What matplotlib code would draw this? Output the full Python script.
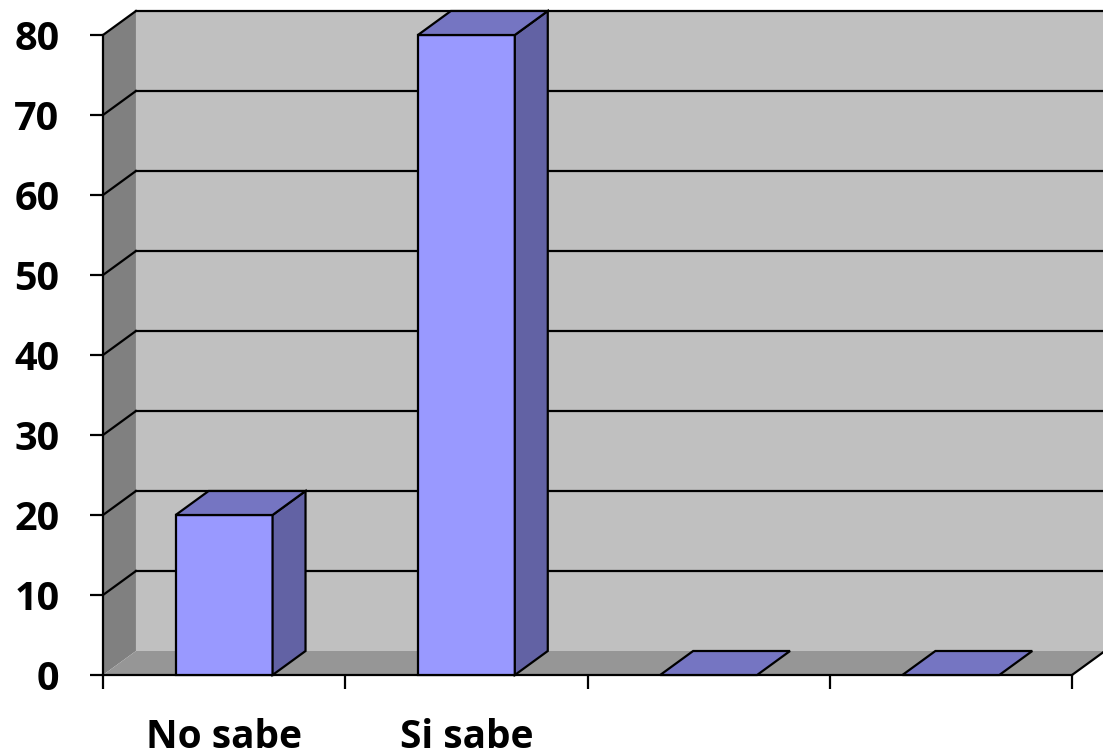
import matplotlib
matplotlib.use("Agg")
import matplotlib.pyplot as plt
from matplotlib.patches import Polygon
import numpy as np

categories = ["No sabe", "Si sabe", "", ""]
values = [20, 80, 0, 0]
y_ticks = [0, 10, 20, 30, 40, 50, 60, 70, 80]

plt.rcParams['font.family'] = ['Open Sans', 'DejaVu Sans']

fig = plt.figure(figsize=(11.03, 7.56), dpi=100)
ax = fig.add_axes([103 / 1103, 81 / 756, 969 / 1103, 640 / 756])

n = len(categories)
ymax = y_ticks[-1]
dx, dy = 0.136, 3.0      # depth offset of the 3d box (category units, value units)
bw = 0.4                 # bar width

wall = "#c0c0c0"
side_wall = "#808080"
floor = "#969696"
bar_front = "#9999ff"
bar_side = "#6262a4"
bar_top = "#7575c2"
lw = 1.6

def poly(pts, fc, ec="none", z=1, lw=lw):
    ax.add_patch(Polygon(pts, closed=True, facecolor=fc, edgecolor=ec,
                         linewidth=lw, zorder=z, clip_on=False, joinstyle="miter"))

# back wall, left wall and floor
poly([(dx, dy), (n + dx, dy), (n + dx, ymax + dy), (dx, ymax + dy)], wall, z=1)
poly([(0, 0), (dx, dy), (dx, ymax + dy), (0, ymax)], side_wall, z=1)
poly([(0, 0), (n, 0), (n + dx, dy), (dx, dy)], floor, z=2)

# gridlines on back wall and left wall
for t in y_ticks[1:]:
    ax.plot([dx, n + dx], [t + dy, t + dy], color="black", lw=lw, zorder=1.5, clip_on=False)
    ax.plot([0, dx], [t, t + dy], color="black", lw=lw, zorder=3, clip_on=False)
ax.plot([0, n], [0, 0], color="black", lw=lw, zorder=3, clip_on=False)
ax.plot([n, n + dx], [0, dy], color="black", lw=lw, zorder=3, clip_on=False)
ax.plot([0, 0], [0, ymax], color="black", lw=lw, zorder=3, clip_on=False)

# bars
for i, v in enumerate(values):
    x0 = i + 0.5 - bw / 2
    x1 = i + 0.5 + bw / 2
    z = 4 + i
    if v > 0:
        poly([(x0, 0), (x1, 0), (x1, v), (x0, v)], bar_front, "black", z)
        poly([(x1, 0), (x1 + dx, dy), (x1 + dx, v + dy), (x1, v)], bar_side, "black", z)
    poly([(x0, v), (x1, v), (x1 + dx, v + dy), (x0 + dx, v + dy)], bar_top, "black", z)

ax.set_xlim(0, n)
ax.set_ylim(0, ymax)
for s in ax.spines.values():
    s.set_visible(False)
ax.patch.set_visible(False)

ax.set_yticks(y_ticks)
ax.set_yticklabels([str(t) for t in y_ticks], fontsize=28.5, fontweight="bold")
ax.tick_params(axis="y", length=9.4, width=lw, pad=22)

ax.set_xticks(np.arange(n + 1))
ax.set_xticklabels([])
ax.tick_params(axis="x", which="major", length=10, width=lw)
ax.set_xticks(np.arange(n) + 0.5, minor=True)
ax.set_xticklabels(categories, minor=True, fontsize=28, fontweight="bold")
ax.tick_params(axis="x", which="minor", length=0, pad=31)

fig.savefig("out.png", dpi=100)
